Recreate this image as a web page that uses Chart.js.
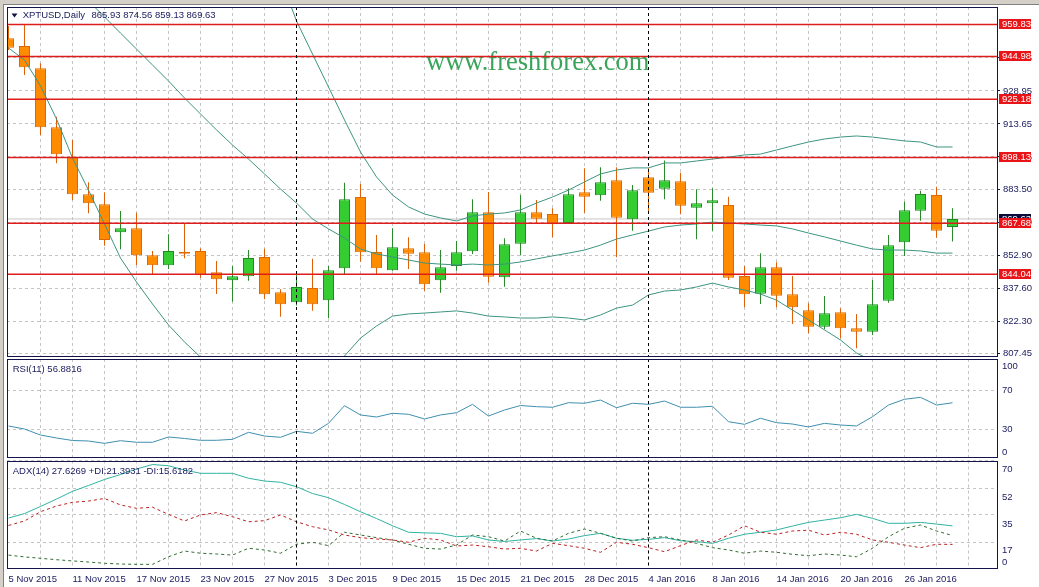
<!DOCTYPE html>
<html><head><meta charset="utf-8">
<script src="https://cdn.jsdelivr.net/npm/chart.js@4.4.1/dist/chart.umd.min.js"></script>
<style>
html,body{margin:0;padding:0;background:#d4d0c8;}
#wrap{position:relative;width:1039px;height:587px;overflow:hidden;background:#d4d0c8;}
#panel{position:absolute;left:3px;top:4px;width:1036px;height:583px;background:#fff;border-left:1px solid #808080;border-top:1px solid #808080;}
canvas{position:absolute;left:0;}
</style></head>
<body><div id="wrap"><div id="panel"></div>
<canvas id="cMain" width="1039" height="358" style="top:0px"></canvas>
<canvas id="cRsi" width="1039" height="101" style="top:358px"></canvas>
<canvas id="cAdx" width="1039" height="128" style="top:459px"></canvas>
</div>
<script>
// ---------------- DATA ----------------
const symbol = 'XPTUSD';
const timeframe = 'Daily';
const watermark = 'www.freshforex.com';
const dates = ['5 Nov 2015','6 Nov 2015','9 Nov 2015','10 Nov 2015','11 Nov 2015','12 Nov 2015','13 Nov 2015','16 Nov 2015','17 Nov 2015','18 Nov 2015','19 Nov 2015','20 Nov 2015','23 Nov 2015','24 Nov 2015','25 Nov 2015','26 Nov 2015','27 Nov 2015','30 Nov 2015','1 Dec 2015','2 Dec 2015','3 Dec 2015','4 Dec 2015','7 Dec 2015','8 Dec 2015','9 Dec 2015','10 Dec 2015','11 Dec 2015','14 Dec 2015','15 Dec 2015','16 Dec 2015','17 Dec 2015','18 Dec 2015','21 Dec 2015','22 Dec 2015','23 Dec 2015','24 Dec 2015','28 Dec 2015','29 Dec 2015','30 Dec 2015','31 Dec 2015','4 Jan 2016','5 Jan 2016','6 Jan 2016','7 Jan 2016','8 Jan 2016','11 Jan 2016','12 Jan 2016','13 Jan 2016','14 Jan 2016','15 Jan 2016','18 Jan 2016','19 Jan 2016','20 Jan 2016','21 Jan 2016','22 Jan 2016','25 Jan 2016','26 Jan 2016','27 Jan 2016','28 Jan 2016','29 Jan 2016'];

const opens = [953.38,949.81,939.47,912.12,898.49,881.06,876.42,863.44,865.30,852.78,848.14,854.45,854.77,844.90,841.19,843.04,851.99,835.63,830.99,837.62,831.92,846.75,879.81,854.31,845.82,856.02,854.17,841.19,847.82,854.63,872.71,842.58,858.16,872.71,871.93,867.75,881.99,880.59,887.55,869.47,888.94,883.65,887.09,874.85,876.89,876.10,843.18,834.98,847.21,834.70,827.28,819.68,826.35,818.94,817.36,831.73,858.81,873.46,880.73,865.93];
const highs = [959.08,959.55,941.79,917.03,906.23,886.62,881.99,873.32,872.53,854.77,862.51,867.61,856.02,850.14,847.82,855.24,855.84,837.02,845.18,851.20,847.82,886.44,885.83,862.19,865.30,861.12,858.02,855.24,859.41,878.74,882.13,860.66,880.73,878.42,874.57,883.84,893.11,893.58,893.58,885.37,893.11,896.73,891.07,883.38,883.84,879.95,847.82,853.71,849.53,843.18,830.53,833.91,828.21,825.56,841.33,862.19,877.63,882.73,884.58,874.56];
const lows = [947.96,936.37,908.55,895.43,878.42,872.25,857.23,855.56,848.28,844.11,846.43,851.39,842.39,834.84,831.27,841.00,832.38,824.31,829.50,827.09,823.57,843.65,849.81,844.11,845.64,846.43,836.37,835.44,845.64,853.38,840.08,838.22,852.92,867.61,861.12,867.29,872.53,878.09,851.85,864.18,872.25,878.74,871.79,860.20,864.18,841.33,828.67,830.20,828.67,820.93,816.62,818.47,814.30,809.66,815.83,830.80,852.45,868.82,860.94,859.13];
const closes = [949.02,939.94,912.12,899.60,881.06,876.89,859.87,865.30,852.78,848.14,854.77,853.52,843.78,841.65,843.04,851.53,834.70,830.06,838.08,830.06,845.82,878.74,854.17,846.75,856.49,853.52,839.33,847.21,854.17,872.71,842.86,857.88,872.71,869.75,867.15,881.06,879.95,886.62,870.21,882.91,881.80,887.55,875.77,876.89,878.28,842.39,834.70,847.21,834.05,828.67,819.68,825.89,818.94,817.36,830.06,857.41,873.64,881.20,864.18,869.63];

const bbUpper = [1062.9,1054.6,1052.7,1054.1,1058.3,1058.4,1059.3,1060.1,1056.4,1051.8,1046.7,1038.8,1031.0,1023.1,1015.2,1006.8,995.3,981.3,961.4,946.1,930.8,915.5,900.7,889.1,880.7,875.2,871.9,870.1,868.7,871.0,871.9,872.4,873.8,877.0,879.8,883.0,886.8,890.5,892.3,893.3,893.3,895.6,895.6,896.5,897.4,898.3,899.3,899.7,901.6,903.5,905.3,906.7,907.6,908.1,907.6,906.7,905.8,905.3,903.0,903.0];
const bbMiddle = [1005.9,998.95,991.99,985.04,978.09,970.7,963.3,955.8,948.4,941.0,933.6,925.7,918.3,910.9,903.9,897.4,890.5,883.5,877.0,869.6,865.0,860.8,855.7,853.4,852.0,850.6,849.2,848.7,848.3,848.7,848.3,848.7,849.7,851.1,852.5,853.8,855.2,857.5,860.3,862.2,864.0,865.9,866.8,867.3,868.2,867.7,867.3,866.8,866.4,865.0,863.1,861.3,859.4,857.5,855.7,855.2,855.2,854.8,853.8,853.8];
const bbLower = [948.9,943.3,931.3,916.0,897.9,883.0,867.3,851.5,840.4,830.2,820.5,812.6,805.6,798.7,792.6,788.0,785.7,785.7,792.6,793.1,799.2,806.1,814.4,820.0,824.6,825.6,826.0,826.5,827.0,826.0,824.6,824.2,823.7,823.7,824.2,823.7,822.8,825.1,828.3,829.7,834.4,836.2,836.7,838.1,839.9,838.1,836.7,834.8,832.0,827.4,822.8,818.2,813.5,807.5,803.8,803.7,804.6,804.3,804.6,804.6];

const levels = [959.83, 944.98, 925.18, 898.13, 867.68, 844.04];
const priceTicks = [807.45, 822.30, 837.60, 852.90, 868.20, 883.50, 898.35, 913.65, 928.95, 944.25];

const rsi = [33.1,30.0,23.8,20.8,18.2,17.7,15.3,18.0,16.4,16.4,21.8,20.3,18.4,18.4,19.4,26.6,22.8,21.5,27.6,25.6,35.8,53.9,44.4,42.3,46.1,45.1,40.3,44.4,46.7,55.3,43.3,49.5,54.1,52.9,52.3,57.0,56.4,59.7,51.8,56.4,55.3,58.7,52.3,52.3,53.3,37.5,34.8,41.0,36.5,35.1,32.1,35.8,34.1,33.1,42.6,54.6,60.5,62.5,54.6,56.8816];
const rsiLevels = [30, 70];
const rsiTickLabels = ['100', '70', '30', '0'];
const rsiTickPos = [93.9, 70, 30, 5.7];

const adx = [32.7,35.6,40.2,45.0,50.0,53.8,57.7,60.9,64.5,67.4,66.6,63.8,61.7,61.7,61.7,58.5,56.7,55.9,53.0,48.6,45.9,41.5,36.8,32.4,27.7,23.5,23.1,22.8,20.6,21.1,18.5,17.5,18.5,19.4,17.8,19.1,21.3,22.8,19.6,18.3,18.9,20.0,18.0,17.4,16.3,19.6,22.2,23.5,25.0,27.5,29.9,31.4,32.9,35.1,32.5,29.3,29.3,29.9,28.8,27.6269];
const plusDI = [8.7,7.5,6.6,5.7,4.9,4.2,3.4,2.9,2.7,2.7,7.6,11.3,9.9,9.4,8.7,13.1,12.0,9.9,15.7,17.0,14.8,23.5,21.7,20.0,18.5,15.7,13.1,12.6,15.2,21.7,20.6,17.8,24.3,19.6,17.8,22.8,25.6,22.8,19.6,17.8,20.0,20.6,18.5,16.3,13.5,12.0,9.9,11.3,10.5,9.2,8.3,9.4,8.7,7.6,13.1,20.6,26.1,28.2,24.3,21.3931];
const minusDI = [27.9,30.8,36.8,40.5,42.9,43.7,45.4,41.2,39.0,39.7,35.1,30.8,34.7,36.2,33.6,30.3,31.0,34.7,30.3,27.1,25.0,21.7,20.0,19.1,18.5,17.0,19.6,18.5,14.6,15.2,14.1,12.6,13.1,11.3,16.3,14.8,13.1,10.5,17.0,15.7,13.5,10.9,14.8,18.5,17.0,21.7,27.7,23.5,22.2,24.3,24.8,21.7,23.5,22.2,18.5,17.0,15.2,13.5,15.7,15.6182];
const adxGrid = [17, 35, 52, 70];
const adxTickLabels = ['70', '52', '35', '17', '0'];
const adxTickPos = [64.5, 46.1, 28.6, 11.5, 4.0];

// ---------------- STYLE ----------------
const N = dates.length;
const X_MIN = -0.09375, X_MAX = 61.78125;
const NAVY = '#14144a', TXT = '#1a1a5e', GRID = '#c4c4c4';
const FONT = {family: "'Liberation Sans', Arial, sans-serif", size: 9.5};
const FONT_STR = "9.5px 'Liberation Sans', Arial, sans-serif";
const UP = '#33cc33', UP_B = '#1f8a1f', DN = '#ff8c00', DN_B = '#dd6a00';
const WICK_UP = '#2a8a2a', WICK_DN = '#e0600a';
const BB = '#3d9480', RED = '#dd1c1c', RSI_COL = '#3f8fb0';
const ADX_COL = '#2fb3a3', PDI_COL = '#2f6b2f', MDI_COL = '#b82020';

const separators = dates.map((d, i) => (i > 0 && d.split(' ')[1] !== dates[i-1].split(' ')[1]) ? i : -1).filter(i => i >= 0);
const idx = dates.map((d, i) => i);
const bull = closes.map((c, i) => c >= opens[i]);
const pts = arr => arr.map((v, i) => ({x: i, y: v}));

function fixAxis(w, h) {
  return function(s) {
    if (w !== undefined) s.width = w;
    if (h !== undefined) s.height = h;
    s.paddingTop = 0; s.paddingBottom = 0; s.paddingLeft = 0; s.paddingRight = 0;
  };
}
function xScale(showLabels) {
  return {
    axis: 'x', type: 'linear', position: 'bottom', min: X_MIN, max: X_MAX, offset: false,
    afterBuildTicks: s => { const t = []; for (let v = 0; v <= X_MAX; v += 2) t.push({value: v}); s.ticks = t; },
    grid: { color: c => (c.tick && c.tick.value === 0) ? 'rgba(0,0,0,0)' : GRID, drawTicks: false, lineWidth: 1, offset: false },
    border: { display: false, dash: [3, 3] },
    ticks: { display: showLabels, autoSkip: false, maxRotation: 0, minRotation: 0, align: 'start', padding: 5,
      font: FONT, color: TXT,
      callback: v => (Number.isInteger(v) && v % 4 === 0 && v < N) ? dates[v] : '' },
    afterFit: fixAxis(undefined, showLabels ? 18.5 : 0)
  };
}
function sepScale() {
  return {
    axis: 'x', type: 'linear', position: 'bottom', min: X_MIN, max: X_MAX, offset: false,
    afterBuildTicks: s => { s.ticks = separators.map(v => ({value: v})); },
    grid: { color: '#000000', drawTicks: false, lineWidth: 1, z: 1 },
    border: { display: false, dash: [3, 3] },
    ticks: { display: false },
    afterFit: fixAxis(undefined, 0)
  };
}
function gridAxis(min, max, vals) {
  return {
    axis: 'y', type: 'linear', position: 'right', min, max,
    afterBuildTicks: s => { s.ticks = vals.map(v => ({value: v})); },
    grid: { color: GRID, drawTicks: false },
    border: { display: false, dash: [3, 3] },
    ticks: { display: false },
    afterFit: fixAxis(0)
  };
}
function labelAxis(min, max, pos, labels) {
  return {
    axis: 'y', type: 'linear', position: 'right', min, max,
    afterBuildTicks: s => { s.ticks = pos.map(v => ({value: v})); },
    grid: { display: false, drawTicks: false },
    border: { display: false },
    ticks: { padding: 5, font: FONT, color: TXT, autoSkip: false, callback: (v, i) => labels[i] },
    afterFit: fixAxis(42)
  };
}
const common = {
  responsive: false, animation: false, events: [], devicePixelRatio: 1,
  plugins: { legend: { display: false }, tooltip: { enabled: false } }
};
const frame = {
  id: 'frame',
  afterDraw(chart) {
    const {ctx, chartArea: a} = chart;
    const l = Math.round(a.left), t = Math.round(a.top), r = Math.round(a.right), b = Math.round(a.bottom);
    ctx.save(); ctx.strokeStyle = NAVY; ctx.lineWidth = 1;
    ctx.strokeRect(l + 0.5, t + 0.5, r - l, b - t - 1);
    ctx.restore();
  }
};
function drawText(ctx, text, x, y) {
  ctx.save(); ctx.font = FONT_STR; ctx.fillStyle = TXT; ctx.textBaseline = 'middle'; ctx.textAlign = 'left';
  ctx.fillText(text, x, y); ctx.restore();
}
const line = (data, color, extra) => Object.assign({
  type: 'line', data, borderColor: color, borderWidth: 1, pointRadius: 0, tension: 0,
  xAxisID: 'x', yAxisID: 'y'
}, extra || {});

// ---------------- MAIN PRICE CHART ----------------
const mainOverlay = {
  id: 'mainOverlay',
  beforeDatasetsDraw(chart) {
    const ctx = chart.ctx;
    ctx.save();
    ctx.font = "26.5px 'Liberation Serif', 'Times New Roman', serif";
    ctx.fillStyle = '#3aa55a'; ctx.textBaseline = 'alphabetic'; ctx.textAlign = 'left';
    ctx.fillText(watermark, 426, 70);
    ctx.restore();
  },
  afterDraw(chart) {
    const ctx = chart.ctx, ys = chart.scales.y, a = chart.chartArea;
    ctx.save();
    ctx.font = FONT_STR; ctx.textBaseline = 'middle'; ctx.textAlign = 'left';
    const box = (v, bg) => {
      const py = Math.round(ys.getPixelForValue(v));
      ctx.fillStyle = bg; ctx.fillRect(a.right + 2, py - 5, 32, 10);
      ctx.fillStyle = '#ffffff'; ctx.fillText(v.toFixed(2), a.right + 5, py + 0.5);
    };
    box(closes[N-1], '#0c0c3c');
    levels.forEach(v => box(v, '#e81418'));
    // header
    ctx.fillStyle = NAVY;
    ctx.beginPath(); ctx.moveTo(11.5, 13.5); ctx.lineTo(17.5, 13.5); ctx.lineTo(14.5, 17.5); ctx.closePath(); ctx.fill();
    ctx.restore();
    drawText(ctx, symbol + ',' + timeframe, 22.7, 15.5);
    drawText(ctx, [opens[N-1], highs[N-1], lows[N-1], closes[N-1]].map(v => v.toFixed(2)).join(' '), 91.5, 15.5);
  }
};

new Chart(document.getElementById('cMain'), {
  type: 'line',
  data: { datasets: [
    line([{x: X_MIN, y: closes[N-1]}, {x: X_MAX, y: closes[N-1]}], '#c8c8c8', {order: 6}),
    { type: 'bar', data: idx.map(i => ({x: i, y: [lows[i], highs[i]]})),
      backgroundColor: bull.map(b => b ? WICK_UP : WICK_DN), borderWidth: 0, inflateAmount: 0,
      barThickness: 1, grouped: false, order: 4, xAxisID: 'x', yAxisID: 'y' },
    { type: 'bar', data: idx.map(i => ({x: i, y: [opens[i], closes[i]]})),
      backgroundColor: bull.map(b => b ? UP : DN), borderColor: bull.map(b => b ? UP_B : DN_B),
      borderWidth: 1, borderSkipped: false, inflateAmount: 0,
      barThickness: 11, grouped: false, order: 3, xAxisID: 'x', yAxisID: 'y' },
    line(pts(bbUpper), BB, {order: 2}),
    line(pts(bbMiddle), BB, {order: 2}),
    line(pts(bbLower), BB, {order: 2}),
    ...levels.map(v => line([{x: X_MIN, y: v}, {x: X_MAX, y: v}], RED, {borderWidth: 1.5, order: 1}))
  ]},
  options: Object.assign({}, common, {
    layout: { padding: {top: 7, left: 7, right: 0, bottom: 1}, autoPadding: false },
    scales: {
      x: xScale(false),
      xs: sepScale(),
      y: {
        axis: 'y', type: 'linear', position: 'right', min: 805.63, max: 967.89,
        afterBuildTicks: s => { s.ticks = priceTicks.map(v => ({value: v})); },
        grid: { color: GRID, drawTicks: true, tickLength: 3, tickColor: NAVY, lineWidth: 1 },
        border: { display: false, dash: [3, 3] },
        ticks: { padding: 3, font: FONT, color: TXT, autoSkip: false, callback: v => v.toFixed(2) },
        afterFit: fixAxis(42)
      }
    }
  }),
  plugins: [mainOverlay, frame]
});

// ---------------- RSI ----------------
new Chart(document.getElementById('cRsi'), {
  type: 'line',
  data: { datasets: [ line(pts(rsi), RSI_COL) ] },
  options: Object.assign({}, common, {
    layout: { padding: {top: 1, left: 7, right: 0, bottom: 0.75}, autoPadding: false },
    scales: {
      x: xScale(false), xs: sepScale(),
      y: gridAxis(0, 101.8, rsiLevels),
      yl: labelAxis(0, 101.8, rsiTickPos, rsiTickLabels)
    }
  }),
  plugins: [frame, { id: 'rsiText', afterDraw(c) { drawText(c.ctx, 'RSI(11) ' + rsi[N-1].toFixed(4), 12.7, 11); } }]
});

// ---------------- ADX ----------------
new Chart(document.getElementById('cAdx'), {
  type: 'line',
  data: { datasets: [
    line(pts(minusDI), MDI_COL, {borderDash: [3, 3]}),
    line(pts(plusDI), PDI_COL, {borderDash: [3, 3]}),
    line(pts(adx), ADX_COL)
  ]},
  options: Object.assign({}, common, {
    layout: { padding: {top: 1.5, left: 7, right: 0, bottom: 0}, autoPadding: false },
    scales: {
      x: xScale(true), xs: sepScale(),
      y: gridAxis(0, 70, adxGrid),
      yl: labelAxis(0, 70, adxTickPos, adxTickLabels)
    }
  }),
  plugins: [frame, { id: 'adxText', afterDraw(c) {
    drawText(c.ctx, 'ADX(14) ' + adx[N-1].toFixed(4) + ' +DI:' + plusDI[N-1].toFixed(4) + ' -DI:' + minusDI[N-1].toFixed(4), 12.7, 12);
  } }]
});
</script>
</body></html>
